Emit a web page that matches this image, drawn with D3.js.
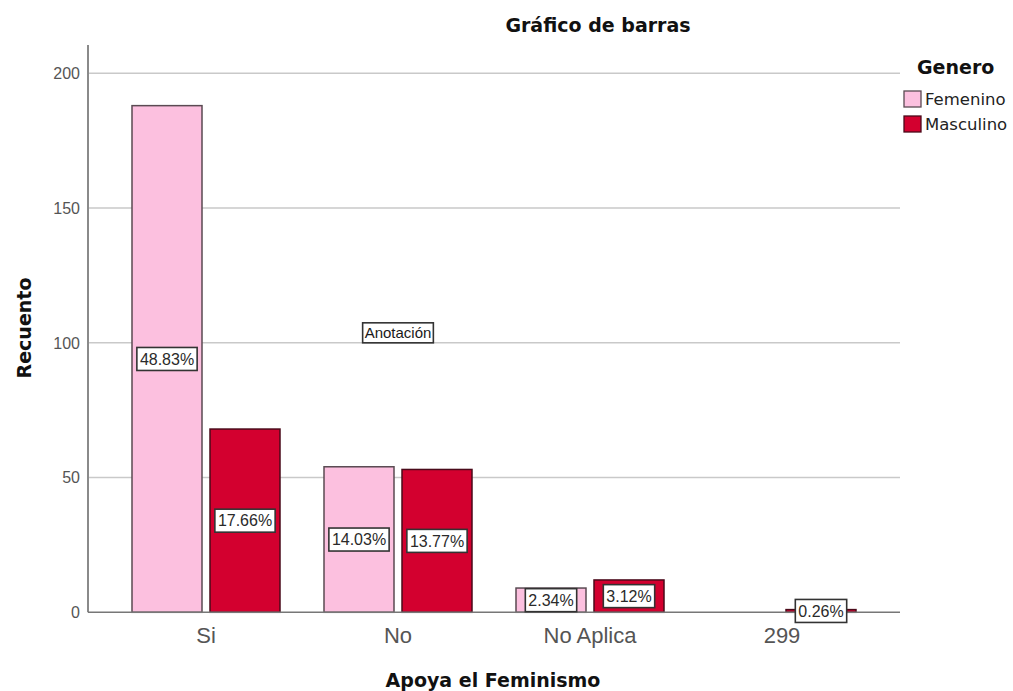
<!DOCTYPE html>
<html>
<head>
<meta charset="utf-8">
<script src="https://cdn.jsdelivr.net/npm/d3@7"></script>
<style>
  html, body { margin: 0; padding: 0; background: #fff; }
  svg { display: block; }
</style>
</head>
<body>
<svg id="chart" width="1013" height="691"></svg>
<script>
const categories = ["Si", "No", "No Aplica", "299"];
const genders = ["Femenino", "Masculino"];
const femenino = [188, 54, 9, 0];
const masculino = [68, 53, 12, 1];
const yTicks = [0, 50, 100, 150, 200];
const annotations = [{ cat: "No", value: 103.7, text: "Anotación" }];
const colors = { Femenino: "#fcc0df", Masculino: "#d3002f" };
const strokes = { Femenino: "#5a4a52", Masculino: "#4a0a1a" };

(function () {
const total = d3.sum(femenino) + d3.sum(masculino);
const rows = [];
categories.forEach((c, i) => {
  rows.push({ cat: c, g: "Femenino", v: femenino[i] });
  rows.push({ cat: c, g: "Masculino", v: masculino[i] });
});

const svg = d3.select("#chart");
const pLeft = 88, pRight = 900, pTop = 45, pBottom = 612.3;

const y = d3.scaleLinear().domain([0, 210.5]).range([pBottom, pTop]);
const x = d3.scaleBand().domain(categories).range([110, 878]).padding(0);
const x1 = d3.scaleBand().domain(genders).range([0, 148]).paddingInner(8 / 78).paddingOuter(0);
const off = (x.bandwidth() - 148) / 2;

// gridlines
svg.append("g").selectAll("line").data(yTicks.filter(t => t > 0)).join("line")
  .attr("x1", pLeft).attr("x2", pRight)
  .attr("y1", d => y(d)).attr("y2", d => y(d))
  .attr("stroke", "#c9c9c9").attr("stroke-width", 1.5);

// y tick labels
svg.append("g").selectAll("text").data(yTicks).join("text")
  .attr("x", 80).attr("y", d => y(d)).attr("dy", "0.36em")
  .attr("text-anchor", "end")
  .attr("font-family", "Liberation Sans, Arial, sans-serif")
  .attr("font-size", 16).attr("fill", "#555")
  .text(d => d);

// bars
svg.append("g").selectAll("rect").data(rows.filter(d => d.v > 0)).join("rect")
  .attr("x", d => x(d.cat) + off + x1(d.g))
  .attr("width", x1.bandwidth())
  .attr("y", d => y(d.v))
  .attr("height", d => y(0) - y(d.v))
  .attr("fill", d => colors[d.g])
  .attr("stroke", d => strokes[d.g])
  .attr("stroke-width", 1.5);

// axes lines
svg.append("line").attr("x1", pLeft).attr("x2", pLeft).attr("y1", pTop).attr("y2", pBottom)
  .attr("stroke", "#8a8a8a").attr("stroke-width", 2);
svg.append("line").attr("x1", pLeft).attr("x2", pRight).attr("y1", pBottom).attr("y2", pBottom)
  .attr("stroke", "#777").attr("stroke-width", 1.5);

// percentage labels
const lab = svg.append("g").selectAll("g").data(rows.filter(d => d.v > 0)).join("g")
  .attr("transform", d => `translate(${x(d.cat) + off + x1(d.g) + x1.bandwidth() / 2},${(y(0) + y(d.v)) / 2})`);
lab.append("text")
  .attr("text-anchor", "middle").attr("dy", "0.36em")
  .attr("font-family", "Liberation Sans, Arial, sans-serif")
  .attr("font-size", 16).attr("fill", "#2a2a2a")
  .text(d => (d.v / total * 100).toFixed(2) + "%");
lab.each(function () {
  const g = d3.select(this);
  const bb = g.select("text").node().getBBox();
  g.insert("rect", "text")
    .attr("x", bb.x - 3).attr("y", -11.5)
    .attr("width", bb.width + 6).attr("height", 23)
    .attr("fill", "#fff").attr("stroke", "#333").attr("stroke-width", 1.6);
});

// annotation
const an = svg.append("g").selectAll("g").data(annotations).join("g")
  .attr("transform", d => `translate(${x(d.cat) + x.bandwidth() / 2},${y(d.value)})`);
an.append("text").attr("text-anchor", "middle").attr("dy", "0.36em")
  .attr("font-family", "Liberation Sans, Arial, sans-serif")
  .attr("font-size", 15).attr("fill", "#1a1a1a")
  .text(d => d.text);
an.each(function () {
  const g = d3.select(this);
  const bb = g.select("text").node().getBBox();
  g.insert("rect", "text")
    .attr("x", bb.x - 2).attr("y", -10)
    .attr("width", bb.width + 4).attr("height", 20)
    .attr("fill", "#fff").attr("stroke", "#333").attr("stroke-width", 1.6);
});

// x tick labels
svg.append("g").selectAll("text").data(categories).join("text")
  .attr("x", d => x(d) + x.bandwidth() / 2).attr("y", 643)
  .attr("text-anchor", "middle")
  .attr("font-family", "Liberation Sans, Arial, sans-serif")
  .attr("font-size", 22).attr("fill", "#555")
  .text(d => d);

// titles
const boldFont = "DejaVu Sans, Verdana, sans-serif";
svg.append("text").attr("x", 598).attr("y", 32).attr("text-anchor", "middle")
  .attr("font-family", boldFont).attr("font-weight", "bold").attr("font-size", 19).attr("fill", "#111")
  .text("Gráfico de barras");
svg.append("text").attr("x", 493).attr("y", 687).attr("text-anchor", "middle")
  .attr("font-family", boldFont).attr("font-weight", "bold").attr("font-size", 19).attr("fill", "#111")
  .text("Apoya el Feminismo");
svg.append("text").attr("transform", "translate(31,328) rotate(-90)").attr("text-anchor", "middle")
  .attr("font-family", boldFont).attr("font-weight", "bold").attr("font-size", 19).attr("fill", "#111")
  .text("Recuento");

// legend
svg.append("text").attr("x", 917).attr("y", 74)
  .attr("font-family", boldFont).attr("font-weight", "bold").attr("font-size", 19).attr("fill", "#111")
  .text("Genero");
const lg = svg.append("g").selectAll("g").data(genders).join("g")
  .attr("transform", (d, i) => `translate(904,${91 + i * 25})`);
lg.append("rect").attr("width", 17).attr("height", 16)
  .attr("fill", d => colors[d]).attr("stroke", d => strokes[d]).attr("stroke-width", 1.3);
lg.append("text").attr("x", 21).attr("y", 14)
  .attr("font-family", "DejaVu Sans, Verdana, sans-serif").attr("font-size", 16.5).attr("fill", "#222")
  .text(d => d);
})();
</script>
</body>
</html>
